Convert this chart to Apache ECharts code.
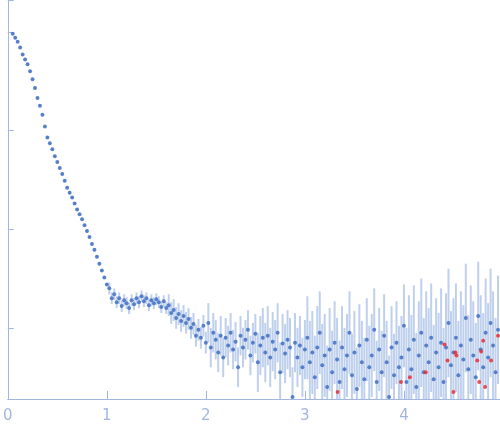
<!DOCTYPE html>
<html><head><meta charset="utf-8">
<script src="https://cdn.jsdelivr.net/npm/echarts@6/dist/echarts.min.js"></script>
<style>html,body{margin:0;padding:0;background:#fff}#c{width:500px;height:437px}</style>
</head><body><div id="c"></div>
<script>
// scattering vector q and log10 intensity
const q = [0.05,0.075,0.1,0.125,0.15,0.175,0.2,0.225,0.25,0.275,0.3,0.325,0.35,0.375,0.4,0.425,0.45,0.475,0.5,0.525,0.55,0.575,0.6,0.625,0.65,0.675,0.7,0.725,0.75,0.775,0.8,0.825,0.85,0.875,0.9,0.925,0.95,0.975,1.0,
1.025,1.05,1.075,1.1,1.125,1.15,1.175,1.2,1.225,1.25,1.275,1.3,1.325,1.35,1.375,1.4,1.425,1.45,1.475,1.5,1.525,1.55,1.575,1.6,1.625,1.65,1.675,1.7,1.725,1.75,1.775,1.8,1.825,1.85,1.875,1.9,1.925,1.95,1.975,2.0,2.025,2.05,2.075,2.1,2.125,2.15,2.175,2.2,2.225,2.25,2.275,2.3,2.325,2.35,2.375,2.4,2.425,2.45,2.475,2.5,2.525,2.55,2.575,2.6,2.625,2.65,2.675,2.7,2.725,2.75,2.775,2.8,2.825,2.85,2.875,2.9,2.925,2.95,2.975,3.0,3.025,3.05,3.075,3.1,3.125,3.15,3.175,3.2,3.225,3.25,3.275,3.3,3.325,3.35,3.375,3.4,3.425,3.45,3.475,3.5,3.525,3.55,3.575,3.6,3.625,3.65,3.675,3.7,3.725,3.75,3.775,3.8,3.825,3.85,3.875,3.9,3.925,3.95,3.975,4.0,4.025,4.05,4.075,4.1,4.125,4.15,4.175,4.2,4.225,4.25,4.275,4.3,4.325,4.35,4.375,4.4,4.425,4.45,4.475,4.5,4.525,4.55,4.575,4.6,4.625,4.65,4.675,4.7,4.725,4.75,4.775,4.8,4.825,4.85,4.875,4.9,4.925,4.95];
const logI = [-0.02,-0.06,-0.10,-0.16,-0.23,-0.28,-0.33,-0.40,-0.48,-0.57,-0.67,-0.75,-0.84,-0.96,-1.07,-1.13,-1.19,-1.26,-1.32,-1.38,-1.44,-1.51,-1.58,-1.63,-1.68,-1.74,-1.80,-1.85,-1.90,-1.96,-2.02,-2.08,-2.15,-2.21,-2.28,-2.35,-2.42,-2.49,-2.56,
-2.60,-2.70,-2.66,-2.74,-2.70,-2.78,-2.72,-2.75,-2.80,-2.72,-2.76,-2.70,-2.74,-2.68,-2.73,-2.70,-2.77,-2.72,-2.75,-2.71,-2.74,-2.79,-2.73,-2.80,-2.77,-2.85,-2.82,-2.90,-2.86,-2.93,-2.88,-2.95,-2.91,-3.00,-2.96,-3.08,-3.02,-3.10,-2.98,-3.15,-2.95,-3.20,-3.05,-3.12,-3.25,-3.08,-3.30,-3.10,-3.18,-3.05,-3.22,-3.14,-3.40,-3.08,-3.20,-3.12,-3.02,-3.28,-3.15,-3.06,-3.35,-3.18,-3.10,-3.25,-3.08,-3.30,-3.14,-3.22,-3.05,-3.45,-3.16,-3.26,-3.12,-3.20,-3.70,-3.15,-3.30,-3.18,-3.40,-3.22,-3.10,-3.35,-3.25,-3.50,-3.20,-3.05,-3.38,-3.28,-3.60,-3.22,-3.45,-3.15,-3.32,-3.55,-3.20,-3.42,-3.28,-3.05,-3.48,-3.25,-3.62,-3.18,-3.35,-3.52,-3.12,-3.40,-3.28,-3.02,-3.55,-3.22,-3.45,-3.08,-3.35,-3.70,-3.20,-3.48,-3.15,-3.40,-3.30,-2.98,-3.55,-3.22,-3.42,-3.12,-3.60,-3.28,-3.05,-3.45,-3.18,-3.35,-3.10,-3.52,-3.25,-3.40,-3.15,-3.55,-3.20,-2.95,-3.38,-3.25,-3.10,-3.48,-3.18,-3.32,-2.90,-3.42,-3.12,-3.28,-3.50,-2.88,-3.22,-3.40,-3.05,-3.30,-2.95,-3.18,-3.45,-3.02];
// error (log10 half-width) per q band: [upper q, err]
const errBands = [[1.0,0.015],[1.6,0.06],[2.0,0.11],[2.5,0.2],[3.0,0.3],[4.0,0.42],[5.0,0.55]];
// negative-intensity points (plotted as magnitude)
const redQ = [3.33,3.97,4.06,4.22,4.41,4.44,4.50,4.52,4.53,4.74,4.76,4.78,4.80,4.82,4.88,4.95];
const redLogI = [-3.65,-3.55,-3.50,-3.45,-3.17,-3.33,-3.65,-3.25,-3.28,-3.33,-3.55,-3.24,-3.13,-3.60,-3.33,-3.08];

const YMIN = 1.9e-4, YMAX = 2.1;
function errAt(x){for(const b of errBands){if(x<=b[0])return b[1];}return errBands[errBands.length-1][1];}
const pts = q.map((x,i)=>[x,Math.pow(10,logI[i])]);
const bars = q.map((x,i)=>{const e=errAt(x);return [x,Math.max(YMIN,Math.pow(10,logI[i]-e)),Math.min(YMAX,Math.pow(10,logI[i]+e))];});
const red = redQ.map((x,i)=>[x,Math.pow(10,redLogI[i])]);
const ax='#a3b6df';
const chart = echarts.init(document.getElementById('c'));
chart.setOption({
  animation:false,
  grid:{left:5,right:0,top:0,bottom:38},
  xAxis:{type:'value',min:0,max:4.97,interval:1,
    axisLine:{lineStyle:{color:ax}},axisTick:{inside:true,length:8,lineStyle:{color:ax}},
    axisLabel:{color:ax,fontSize:15,margin:10,fontFamily:'DejaVu Sans',showMaxLabel:false},splitLine:{show:false}},
  yAxis:{type:'log',min:YMIN,max:YMAX,logBase:10,
    axisLine:{show:true,lineStyle:{color:ax}},axisTick:{show:true,inside:true,length:6,lineStyle:{color:ax}},
    axisLabel:{show:false},splitLine:{show:false}},
  series:[
    {type:'custom',data:bars,clip:true,renderItem:(p,api)=>{
      const a=api.coord([api.value(0),api.value(1)]),b=api.coord([api.value(0),api.value(2)]);
      return {type:'line',shape:{x1:a[0],y1:a[1],x2:b[0],y2:b[1]},style:{stroke:'rgba(175,196,232,0.8)',lineWidth:2}};
    },encode:{x:0,y:[1,2]},z:1},
    {type:'scatter',data:pts,symbolSize:4,itemStyle:{color:'#3a69c0'},z:3},
    {type:'scatter',data:red,symbolSize:4,itemStyle:{color:'#e8262a'},z:4}
  ]
});
</script></body></html>
